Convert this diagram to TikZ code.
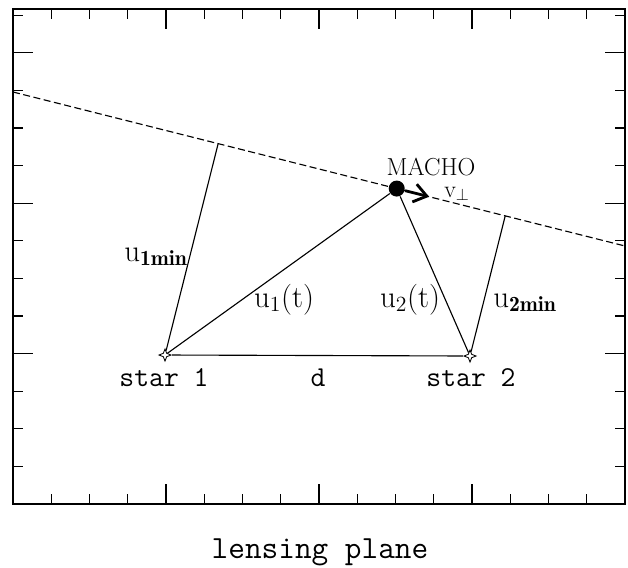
\documentclass[tikz,border=0pt]{standalone}
\usepackage{fix-cm}
\usepackage{amsmath}
\usepackage{fontspec}
\usetikzlibrary{arrows.meta,calc,shapes.geometric}

\tikzset{
  lbl/.style={inner sep=0pt, anchor=base, font=\fontsize{22}{26}\selectfont},
  spaced/.style={inner sep=0pt, anchor=base, font=\ttfamily\fontsize{20.5}{24}\selectfont},
  starmark/.style={star, star points=4, star point ratio=2.5, draw, line width=0.6pt, inner sep=0pt, minimum size=0.3cm},
}

\begin{document}
\begin{tikzpicture}[x=0.025cm, y=-0.025cm, line width=0.8pt]
\useasboundingbox (0,0) rectangle (628,567);

% Frame with tick marks
\draw[line width=1pt] (13,9) rectangle (625,504);
\foreach \k in {1,...,15} {
  \pgfmathsetmacro{\ticklen}{mod(\k,4)==0 ? 20 : 10}
  \draw (13+\k*38.25,9) -- ++(0,\ticklen);
  \draw (13+\k*38.25,504) -- ++(0,-\ticklen);
}
\foreach \k in {1,...,13} {
  \pgfmathsetmacro{\ticklen}{mod(\k,4)==0 ? 20 : 10}
  \draw (13,504-\k*37.6) -- ++(\ticklen,0);
  \draw (625,504-\k*37.6) -- ++(-\ticklen,0);
}

% Track of the MACHO
\coordinate (trackL) at (13,92);
\coordinate (trackR) at (625,246);
\draw[dash pattern=on 5pt off 2.5pt] (trackL) -- (trackR);

% Stars and lens
\node[starmark] (star1) at (165,355) {};
\node[starmark] (star2) at (470,356) {};
\node[circle, fill, inner sep=0pt, minimum size=0.4cm] (macho) at ($(trackL)!0.627!(trackR)$) {};
\coordinate (vtip) at ($(trackL)!0.68!(trackR)$);

% Points of closest approach
\coordinate (foot1) at ($(trackL)!(star1)!(trackR)$);
\coordinate (foot2) at ($(trackL)!(star2)!(trackR)$);

\draw (star1) -- (star2);
\draw (star1) -- (macho);
\draw (star2) -- (macho);
\draw (star1) -- (foot1);
\draw (star2) -- (foot2);
\draw[line width=2pt, -{Straight Barb[length=9pt,width=13pt]}] (macho) -- (vtip);

% Labels
\node[anchor=base, inner sep=0pt, font=\fontsize{17.5}{20}\selectfont] (machoLabel) at (431,175) {MACHO};
\node[lbl, font=\fontsize{17}{20}\selectfont] (vLabel) at (457,197) {$\mathrm{v}_{\perp}$};
\node[lbl] (u1minLabel) at (156,261) {$\mathrm{u}_{\mathbf{1min}}$};
\node[lbl] (u1Label) at (284,307) {$\mathrm{u}_1(\mathrm{t})$};
\node[lbl] (u2Label) at (410,307) {$\mathrm{u}_2(\mathrm{t})$};
\node[lbl] (u2minLabel) at (525,307) {$\mathrm{u}_{\mathbf{2min}}$};
\node[spaced] (star1Label) at (164,386) {star 1};
\node[spaced] (dLabel) at (318,386) {d};
\node[spaced] (star2Label) at (471,386) {star 2};
\node[spaced, font=\ttfamily\fontsize{23}{27}\selectfont] (planeLabel) at (320,558) {lensing plane};
\end{tikzpicture}
\end{document}
